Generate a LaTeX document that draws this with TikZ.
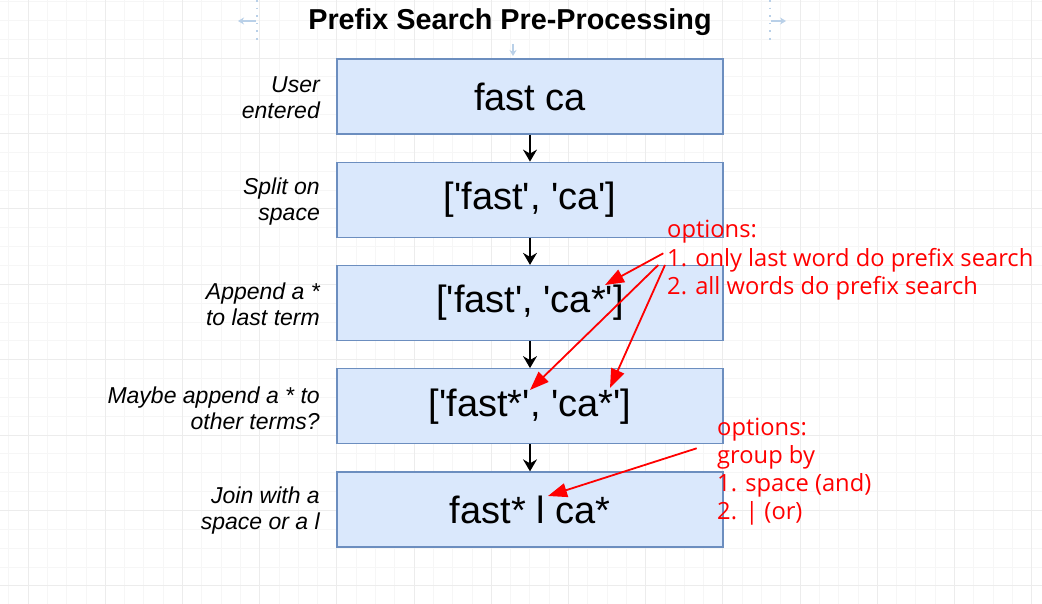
\documentclass[tikz,border=0pt]{standalone}
\usepackage{fontspec}
\setmainfont{Liberation Sans}
\newfontfamily\redfont{Open Sans}
\usetikzlibrary{arrows.meta}
\definecolor{boxfill}{HTML}{DAE8FC}
\definecolor{boxline}{HTML}{6C8EBF}
\definecolor{gridminor}{HTML}{F6F6F6}
\definecolor{gridmajor}{HTML}{ECECEC}
\definecolor{guide}{HTML}{B9D0E8}
\definecolor{annot}{HTML}{FF0000}
\begin{document}
\begin{tikzpicture}[x=1pt,y=-1pt,
  stepbox/.style={draw=boxline, fill=boxfill, line width=1.3pt, minimum width=386pt, minimum height=75pt, inner sep=0pt, font=\fontsize{38}{44}\selectfont},
  sidelabel/.style={anchor=east, align=right, inner sep=0pt, font=\fontsize{23}{26}\selectfont\itshape},
  flow/.style={line width=1.4pt, -{Stealth[length=12pt,width=14pt,inset=4pt]}},
  note/.style={anchor=base west, inner sep=0pt, text=annot, font=\fontsize{23.7}{28}\selectfont\redfont},
  pointer/.style={draw=annot, line width=1.8pt, -{Triangle[length=19pt,width=14pt]}},
  guideline/.style={draw=guide, line width=1.6pt, dash pattern=on 1.6pt off 6pt},
  guidearrow/.style={draw=guide, line width=1.4pt, -{Stealth[length=6pt,width=7pt]}}]
\useasboundingbox (0,0) rectangle (1042,604);
\fill[white] (0,0) rectangle (1042,604);
% background grid
\foreach \i in {0,...,53} {\draw[gridminor, line width=0.8pt] ({8.7+19.3*\i},0) -- ({8.7+19.3*\i},604);}
\foreach \j in {0,...,31} {\draw[gridminor, line width=0.8pt] (0,{1.45+18.85*\j}) -- (1042,{1.45+18.85*\j});}
\foreach \i in {0,...,13} {\draw[gridmajor, line width=0.8pt] ({28+77.2*\i},0) -- ({28+77.2*\i},604);}
\foreach \j in {0,...,7} {\draw[gridmajor, line width=0.8pt] (0,{58+75.4*\j}) -- (1042,{58+75.4*\j});}
% editor guides around the title
\draw[guideline] (257,0) -- (257,42);
\draw[guideline] (770,0) -- (770,42);
\coordinate (gl1) at (256,21); \coordinate (gl2) at (238,21);
\coordinate (gr1) at (771,21); \coordinate (gr2) at (786,21);
\coordinate (gd1) at (513,44); \coordinate (gd2) at (513,56);
\draw[guidearrow] (gl1) -- (gl2);
\draw[guidearrow] (gr1) -- (gr2);
\draw[guidearrow] (gd1) -- (gd2);
% title
\node[inner sep=0pt, font=\fontsize{28.8}{34}\selectfont\bfseries] (title) at (510,22) {Prefix Search Pre-Processing};
% boxes
\node[stepbox] (b1) at (530,96.5) {fast ca};
\node[stepbox] (b2) at (530,199.75) {[\textquotesingle fast\textquotesingle, \textquotesingle ca\textquotesingle]};
\node[stepbox] (b3) at (530,303) {[\textquotesingle fast\textquotesingle, \textquotesingle ca*\textquotesingle]};
\node[stepbox] (b4) at (530,406.25) {[\textquotesingle fast*\textquotesingle, \textquotesingle ca*\textquotesingle]};
\node[stepbox] (b5) at (530,509.5) {fast* l ca*};
\draw[flow] (b1.south) -- (b2.north);
\draw[flow] (b2.south) -- (b3.north);
\draw[flow] (b3.south) -- (b4.north);
\draw[flow] (b4.south) -- (b5.north);
% side labels
\node[sidelabel] (l1) at (320,98) {User\\entered};
\node[sidelabel] (l2) at (320,201.5) {Split on\\space};
\node[sidelabel] (l3) at (320,304.5) {Append a *\\to last term};
\node[sidelabel] (l4) at (320,408) {Maybe append a * to\\other terms?};
\node[sidelabel] (l5) at (320,511) {Join with a\\space or a l};
% red annotations
\node[note] (n1a) at (667,237.7) {options:};
\node[note] (n1b) at (667,266) {1. only last word do prefix search};
\node[note] (n1c) at (667,294.3) {2. all words do prefix search};
\node[note] (n2a) at (717,435) {options:};
\node[note] (n2b) at (717,463.3) {group by};
\node[note] (n2c) at (717,491.3) {1. space (and)};
\node[note] (n2d) at (717,519.5) {2. | (or)};
\coordinate (pa0) at (663.3,253.3); \coordinate (pa1) at (605,285);
\coordinate (pb0) at (658.3,265);   \coordinate (pb1) at (530,390);
\coordinate (pc0) at (665,265);     \coordinate (pc1) at (610,388);
\coordinate (pd0) at (696.7,448.3); \coordinate (pd1) at (548,496);
\draw[pointer] (pa0) -- (pa1);
\draw[pointer] (pb0) -- (pb1);
\draw[pointer] (pc0) -- (pc1);
\draw[pointer] (pd0) -- (pd1);
\end{tikzpicture}
\end{document}
